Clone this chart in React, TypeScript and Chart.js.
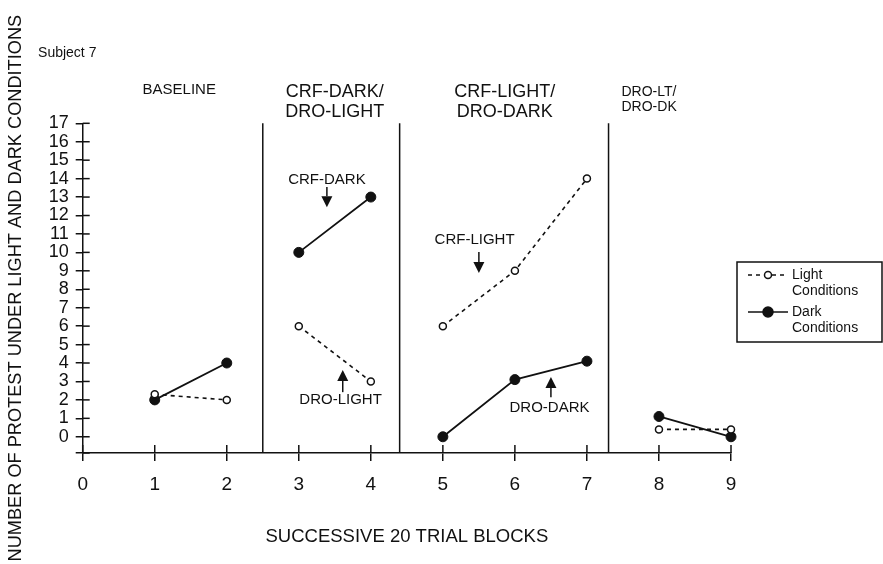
import React, { useEffect, useRef } from "react";
import { Chart, registerables } from "chart.js";

Chart.register(...registerables);

// ---- data ----
const blocks = [1, 2, 3, 4, 5, 6, 7, 8, 9];
const lightValues = [2.3, 2, 6, 3, 6, 9, 14, 0.4, 0.4];
const darkValues = [2, 4, 10, 13, 0, 3.1, 4.1, 1.1, 0];
const phaseBreaks = [2.5, 4.4, 7.3];
const xTicks = [0, 1, 2, 3, 4, 5, 6, 7, 8, 9];
const yTicks = [0, 1, 2, 3, 4, 5, 6, 7, 8, 9, 10, 11, 12, 13, 14, 15, 16, 17];
const phaseTitles = [["BASELINE"], ["CRF-DARK/", "DRO-LIGHT"], ["CRF-LIGHT/", "DRO-DARK"], ["DRO-LT/", "DRO-DK"]];
const arrowLabels = ["CRF-DARK", "DRO-LIGHT", "CRF-LIGHT", "DRO-DARK"];
const legendLabels = [["Light", "Conditions"], ["Dark", "Conditions"]];
const yTitle = "NUMBER OF PROTEST UNDER LIGHT AND DARK CONDITIONS";
const xTitle = "SUCCESSIVE 20 TRIAL BLOCKS";
const subjectLabel = "Subject 7";

const INK = "#111111";
const FONT = "'Liberation Sans', Arial, sans-serif";

function segmented(values: number[]) {
  const pts: { x: number; y: number | null }[] = [];
  blocks.forEach((b, i) => {
    if (i > 0 && phaseBreaks.some((p) => p > blocks[i - 1] && p < b)) {
      pts.push({ x: (blocks[i - 1] + b) / 2, y: null });
    }
    pts.push({ x: b, y: values[i] });
  });
  return pts;
}

function drawArrow(ctx: CanvasRenderingContext2D, x: number, yTail: number, yTip: number) {
  const dir = yTip > yTail ? 1 : -1;
  const head = 11;
  ctx.beginPath();
  ctx.moveTo(x, yTail);
  ctx.lineTo(x, yTip - dir * head);
  ctx.stroke();
  ctx.beginPath();
  ctx.moveTo(x, yTip);
  ctx.lineTo(x - 5.5, yTip - dir * head);
  ctx.lineTo(x + 5.5, yTip - dir * head);
  ctx.closePath();
  ctx.fill();
}

const overlay = {
  id: "overlay",
  beforeDatasetsDraw(chart: any) {
    const { ctx, chartArea, scales } = chart;
    const x = scales.x, y = scales.y;
    ctx.save();
    ctx.strokeStyle = INK;
    ctx.lineWidth = 1.5;
    y.ticks.forEach((t: any) => {
      const py = y.getPixelForValue(t.value);
      ctx.beginPath();
      ctx.moveTo(chartArea.left, py);
      ctx.lineTo(chartArea.left + 7, py);
      ctx.stroke();
    });
    x.ticks.forEach((t: any) => {
      const px = x.getPixelForValue(t.value);
      ctx.beginPath();
      ctx.moveTo(px, chartArea.bottom);
      ctx.lineTo(px, chartArea.bottom - 8);
      ctx.stroke();
    });
    const topY = y.getPixelForValue(yTicks[yTicks.length - 1]);
    phaseBreaks.forEach((b) => {
      const px = x.getPixelForValue(b);
      ctx.beginPath();
      ctx.moveTo(px, topY);
      ctx.lineTo(px, chartArea.bottom);
      ctx.stroke();
    });
    ctx.restore();
  },
  afterDraw(chart: any) {
    const { ctx, scales } = chart;
    const x = scales.x, y = scales.y;
    const X = (v: number) => x.getPixelForValue(v);
    const Y = (v: number) => y.getPixelForValue(v);
    ctx.save();
    ctx.fillStyle = INK;
    ctx.strokeStyle = INK;
    ctx.textBaseline = "middle";

    ctx.textAlign = "left";
    ctx.font = `14px ${FONT}`;
    ctx.fillText(subjectLabel, X(-0.62), Y(20.8));

    ctx.textAlign = "center";
    ctx.font = `15px ${FONT}`;
    ctx.fillText(phaseTitles[0][0], X(1.34), Y(18.8));
    ctx.font = `18px ${FONT}`;
    ctx.fillText(phaseTitles[1][0], X(3.5), Y(18.69));
    ctx.fillText(phaseTitles[1][1], X(3.5), Y(18.69) + 20);
    ctx.fillText(phaseTitles[2][0], X(5.86), Y(18.69));
    ctx.fillText(phaseTitles[2][1], X(5.86), Y(18.69) + 20);
    ctx.textAlign = "left";
    ctx.font = `14px ${FONT}`;
    ctx.fillText(phaseTitles[3][0], X(7.48), Y(18.69));
    ctx.fillText(phaseTitles[3][1], X(7.48), Y(18.69) + 15);

    ctx.textAlign = "center";
    ctx.font = `15px ${FONT}`;
    ctx.lineWidth = 1.5;
    ctx.fillText(arrowLabels[0], X(3.39), Y(13.92));
    drawArrow(ctx, X(3.39), Y(13.54), Y(12.45));
    ctx.fillText(arrowLabels[1], X(3.58), Y(1.99));
    drawArrow(ctx, X(3.61), Y(2.42), Y(3.62));
    ctx.fillText(arrowLabels[2], X(5.44), Y(10.66));
    drawArrow(ctx, X(5.5), Y(10.02), Y(8.88));
    ctx.fillText(arrowLabels[3], X(6.48), Y(1.56));
    drawArrow(ctx, X(6.5), Y(2.15), Y(3.24));

    const bx = 737, by = 262, bw = 145, bh = 80;
    ctx.lineWidth = 1.5;
    ctx.strokeRect(bx, by, bw, bh);
    const rows = [
      { y: by + 13, dash: [4, 4], filled: false },
      { y: by + 50, dash: [], filled: true },
    ];
    rows.forEach((r, i) => {
      ctx.setLineDash(r.dash);
      ctx.lineWidth = 1.5;
      ctx.beginPath();
      ctx.moveTo(bx + 11, r.y);
      ctx.lineTo(bx + 51, r.y);
      ctx.stroke();
      ctx.setLineDash([]);
      ctx.beginPath();
      ctx.arc(bx + 31, r.y, r.filled ? 5 : 3.5, 0, Math.PI * 2);
      ctx.fillStyle = r.filled ? INK : "#fff";
      ctx.fill();
      ctx.stroke();
      ctx.fillStyle = INK;
      ctx.textAlign = "left";
      ctx.font = `14px ${FONT}`;
      ctx.fillText(legendLabels[i][0], bx + 55, r.y);
      ctx.fillText(legendLabels[i][1], bx + 55, r.y + 16);
    });
    ctx.restore();
  },
};

export default function App() {
  const ref = useRef<HTMLCanvasElement | null>(null);
  useEffect(() => {
    if (!ref.current) return;
    Chart.defaults.font.family = FONT;
    const chart = new Chart(ref.current, {
      type: "line",
      data: {
        datasets: [
          {
            label: "Light Conditions",
            data: segmented(lightValues) as any,
            borderColor: INK,
            borderWidth: 1.6,
            borderDash: [4, 4],
            pointRadius: 3.5,
            pointBorderWidth: 1.5,
            pointBackgroundColor: "#fff",
            pointBorderColor: INK,
            spanGaps: false,
            clip: false as any,
            order: 0,
          },
          {
            label: "Dark Conditions",
            data: segmented(darkValues) as any,
            borderColor: INK,
            borderWidth: 1.8,
            pointRadius: 5,
            pointBorderWidth: 1,
            pointBackgroundColor: INK,
            pointBorderColor: INK,
            spanGaps: false,
            clip: false as any,
            order: 1,
          },
        ],
      },
      options: {
        animation: false,
        responsive: false,
        devicePixelRatio: 1,
        layout: { padding: { top: 123.3, right: 152, left: 0, bottom: 0 } },
        plugins: { legend: { display: false }, tooltip: { enabled: false } },
        scales: {
          x: {
            type: "linear",
            min: 0,
            max: 9,
            afterBuildTicks: (s: any) => {
              s.ticks = xTicks.map((v) => ({ value: v }));
            },
            afterFit: (s: any) => {
              s.height = 111;
            },
            grid: { drawOnChartArea: false, drawTicks: true, tickLength: 8, color: INK, lineWidth: 1.5 },
            border: { display: true, color: INK, width: 1.5 },
            ticks: { padding: 12, color: INK, font: { size: 19 }, maxRotation: 0, autoSkip: false },
            title: { display: true, text: xTitle, color: INK, font: { size: 18.5 }, padding: { top: 0, bottom: 16 } },
          },
          y: {
            type: "linear",
            min: -0.88,
            max: 17,
            afterBuildTicks: (s: any) => {
              s.ticks = [{ value: s.min }, ...yTicks.map((v) => ({ value: v }))];
            },
            afterFit: (s: any) => {
              s.width = 82.7;
            },
            grid: { drawOnChartArea: false, drawTicks: true, tickLength: 7, color: INK, lineWidth: 1.5 },
            border: { display: true, color: INK, width: 1.5 },
            ticks: {
              padding: 7,
              color: INK,
              font: { size: 18 },
              autoSkip: false,
              callback: (v: any) => (v < 0 ? "" : String(v)),
            },
            title: { display: true, text: yTitle, color: INK, font: { size: 18.2 }, padding: { top: 5, bottom: 0 } },
          },
        },
      },
      plugins: [overlay],
    });
    return () => chart.destroy();
  }, []);
  return (
    <div style={{ position: "fixed", left: 0, top: 0, width: 883, height: 564, background: "#fff" }}>
      <canvas ref={ref} width={883} height={564} style={{ display: "block" }} />
    </div>
  );
}
